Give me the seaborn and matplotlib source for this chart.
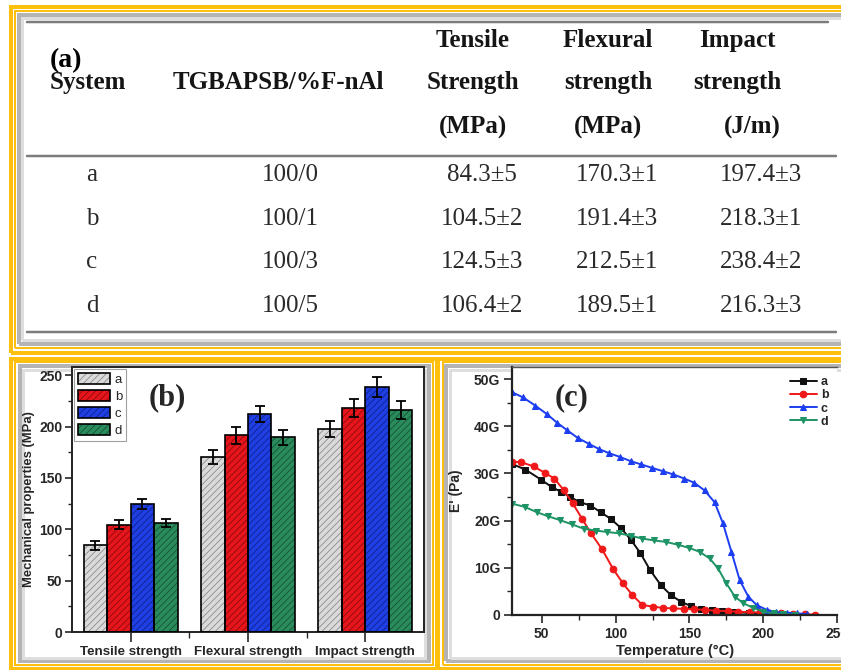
import matplotlib
matplotlib.use("Agg")
import numpy as np
import pandas as pd
import matplotlib.pyplot as plt
import seaborn as sns
from matplotlib.patches import Rectangle, Patch
from matplotlib.lines import Line2D
from matplotlib.ticker import MultipleLocator, FuncFormatter

# ---- (a) table ----
systems = ['a', 'b', 'c', 'd']
ratios = ['100/0', '100/1', '100/3', '100/5']
tensile = [84.3, 104.5, 124.5, 106.4]
tensile_sd = [5, 2, 3, 2]
flexural = [170.3, 191.4, 212.5, 189.5]
flexural_sd = [1, 3, 1, 1]
impact = [197.4, 218.3, 238.4, 216.3]
impact_sd = [3, 1, 2, 3]

# ---- (b) bars ----
properties = ['Tensile strength', 'Flexural strength', 'Impact strength']
bar_err_a = [4, 7, 8]
bar_err_b = [4.5, 8, 9]
bar_err_c = [5, 8, 10]
bar_err_d = [4, 7.5, 8.5]
bar_colors = ['#dadada', '#e5151b', '#1f3fe2', '#2a8c5c']
hatch_colors = ['#8c8c8c', '#8e0b0f', '#0e2390', '#145236']

# ---- (c) storage modulus (GPa) ----
temp_a = [30, 39, 49.5, 56.8, 63.2, 69.3, 76, 83, 89.8, 96.6, 103.4, 110.2, 116.6, 123.4,
          130.7, 137.5, 144.3, 151, 158, 165, 172, 180, 190, 200, 205]
mod_a = [32.0, 30.8, 28.7, 27.1, 26.1, 25.0, 23.9, 23.2, 21.8, 20.4, 18.5, 16.0, 13.2, 9.5,
         6.3, 4.2, 2.8, 1.9, 1.3, 1.0, 0.8, 0.6, 0.45, 0.35, 0.3]
temp_b = [30, 36, 44.5, 52.3, 58.6, 64.8, 70.9, 77.3, 83.4, 90.9, 98.4, 105, 111.4, 118.2,
          125, 131.8, 139, 146.6, 153.4, 160.2, 168, 176, 182.7, 190.7, 197.5, 204, 212,
          220, 228, 235]
mod_b = [32.5, 32.4, 31.5, 30.1, 28.9, 26.5, 23.7, 20.4, 17.3, 13.9, 9.7, 6.7, 4.2, 2.1,
         1.8, 1.5, 1.4, 1.3, 1.2, 1.1, 0.9, 0.85, 0.7, 0.6, 0.55, 0.45, 0.35, 0.25, 0.15, 0.1]
temp_c = [30, 37.5, 45.5, 53.4, 60.2, 67, 74.5, 81.8, 88.6, 95.5, 103, 110.2, 117.5, 124.5,
          131.8, 139, 146.6, 153.4, 160.2, 167, 172.7, 178.4, 184, 189.8, 195.5, 202.3,
          208.6, 216, 222.7, 229.5]
mod_c = [47.2, 46.1, 44.4, 42.6, 40.8, 39.2, 37.5, 36.3, 35.2, 34.3, 33.5, 32.6, 31.9, 31.2,
         30.5, 29.8, 28.9, 28.0, 26.4, 23.9, 19.4, 13.4, 7.4, 3.9, 2.1, 1.1, 0.6, 0.5, 0.35, 0.2]
temp_d = [30, 38.6, 46.6, 54.5, 62.5, 70.5, 78.4, 86.4, 94.3, 102.3, 110.2, 118.2, 126, 134,
          142, 150, 156.8, 163.6, 169.3, 175, 180.7, 186.4, 193.2, 200, 207, 213.6, 221.6]
mod_d = [23.6, 22.9, 21.8, 20.9, 20.1, 19.2, 18.3, 17.9, 17.6, 17.3, 16.8, 16.2, 15.8, 15.5,
         14.9, 14.2, 13.4, 12.0, 9.9, 6.7, 3.9, 2.5, 1.5, 0.7, 0.35, 0.2, 0.1]
line_colors = ['#111111', '#f01818', '#1c3ef0', '#1e9466']
line_markers = ['s', 'o', '^', 'v']

sns.set_style('ticks')
plt.rcParams['font.family'] = ['Liberation Sans', 'DejaVu Sans']
plt.rcParams['font.weight'] = 'bold'
plt.rcParams['axes.labelweight'] = 'bold'
plt.rcParams['hatch.linewidth'] = 0.6

W, H = 841, 670
fig = plt.figure(figsize=(W / 100, H / 100), dpi=100)
fig.patch.set_facecolor('white')

def fx(x):
    return x / W

def fy(y):
    return 1 - y / H

def frame(x0, y0, x1, y1, color, lw_px, z=-2):
    fig.add_artist(Rectangle((fx(x0), fy(y1)), (x1 - x0) / W, (y1 - y0) / H,
                             transform=fig.transFigure, fill=False, ec=color,
                             lw=lw_px * 0.72, clip_on=False, zorder=z))

orange = '#ffbf0f'
# panel frames (double orange + grey shadow)
for (x0, y0, x1, y1) in [(10.5, 6.5, 870, 352.5), (10.5, 358.5, 436.5, 668.5), (438.5, 358.5, 870, 668.5)]:
    frame(x0, y0, x1, y1, orange, 4, z=-1)
for (x0, y0, x1, y1) in [(14.5, 10.5, 870, 348), (15.5, 362, 432.5, 665), (442.5, 362, 870, 665)]:
    frame(x0, y0, x1, y1, orange, 2, z=-1)
    frame(x0 + 4, y0 + 4, x1 - 4, y1 - 4, '#b4b4b4', 4)
    frame(x0 + 7.5, y0 + 7.5, x1 - 7.5, y1 - 7.5, '#dedede', 3)

# ---- (a) table as text ----
serif = ['Liberation Serif', 'DejaVu Serif']
line_kw = dict(transform=fig.transFigure, color='#7c7c7c', lw=2.5 * 0.72)
fig.add_artist(Line2D([fx(27), fx(828)], [fy(22), fy(22)], **line_kw))
fig.add_artist(Line2D([fx(27), fx(836)], [fy(155.5), fy(155.5)], **line_kw))
fig.add_artist(Line2D([fx(27), fx(836)], [fy(332.5), fy(332.5)], **line_kw))

hdr = dict(ha='center', va='baseline', fontsize=18, family=serif, weight='bold', color='#151515')
fig.text(fx(50), fy(67), '(a)', ha='left', va='baseline', fontsize=20, family=serif,
         weight='bold', color='black')
fig.text(fx(88), fy(89), 'System', **hdr)
fig.text(fx(278), fy(89), 'TGBAPSB/%F-nAl', **hdr)
for xc, words in [(473, ['Tensile', 'Strength', '(MPa)']),
                  (608, ['Flexural', 'strength', '(MPa)']),
                  (737, ['Impact', 'strength', '(J/m)'])]:
    for yb, w in zip([47, 89, 134], words):
        xx = 752 if w == '(J/m)' else xc
        fig.text(fx(xx), fy(yb), w, **hdr)

cell = dict(ha='center', va='baseline', fontsize=18, family=serif, weight='normal', color='#2a2a2a')
for i, yb in enumerate([181, 224.5, 268, 312]):
    fig.text(fx(92), fy(yb), systems[i], **cell)
    fig.text(fx(290), fy(yb), ratios[i], **cell)
    fig.text(fx(482), fy(yb), f'{tensile[i]}±{tensile_sd[i]}', **cell)
    fig.text(fx(617), fy(yb), f'{flexural[i]}±{flexural_sd[i]}', **cell)
    fig.text(fx(761), fy(yb), f'{impact[i]}±{impact_sd[i]}', **cell)

# ---- (b) bar chart ----
axb = fig.add_axes([fx(72), fy(632), (424 - 72) / W, (632 - 367) / H])
bar_df = pd.DataFrame({
    'property': np.repeat(properties, 4),
    'system': systems * 3,
    'value': tensile + flexural + impact,
})
sns.barplot(data=bar_df, x='property', y='value', hue='system', palette=bar_colors,
            saturation=1, width=0.8, errorbar=None, legend=False, ax=axb)
errs = [bar_err_a, bar_err_b, bar_err_c, bar_err_d]
handles = []
bar_containers = list(axb.containers)
for i, cont in enumerate(bar_containers):
    xs, hs = [], []
    for bar in cont:
        bar.set_hatch('/////')
        bar.set_edgecolor(hatch_colors[i])
        bar.set_linewidth(0)
        axb.add_patch(Rectangle(bar.get_xy(), bar.get_width(), bar.get_height(),
                                fill=False, ec='black', lw=1.2, zorder=3))
        xs.append(bar.get_x() + bar.get_width() / 2)
        hs.append(bar.get_height())
    axb.errorbar(xs, hs, yerr=errs[i], fmt='none', ecolor='black', elinewidth=1.3,
                 capsize=3.5, capthick=1.3, zorder=4)
    handles.append((Patch(fc=bar_colors[i], ec=hatch_colors[i], hatch='/////', lw=0),
                    Patch(fill=False, ec='black', lw=1.2)))
leg = axb.legend(handles, systems, loc='upper left', bbox_to_anchor=(0, 1), borderaxespad=0.15,
                 frameon=True, fancybox=False, edgecolor='#888888', handlelength=2.4,
                 handleheight=0.9, labelspacing=0.3, handletextpad=0.4, borderpad=0.3,
                 prop=dict(family=['Liberation Sans'], size=9.5, weight='normal'))
leg.get_frame().set_linewidth(0.8)
axb.set_ylim(0, 258)
axb.set_xlim(-0.5, 2.5)
axb.yaxis.set_major_locator(MultipleLocator(50))
axb.yaxis.set_minor_locator(MultipleLocator(25))
axb.set_xticks([0, 1, 2])
axb.set_xticks([0.5, 1.5], minor=True)
axb.tick_params(axis='y', which='major', length=5, width=1.2, labelsize=10, pad=2)
axb.tick_params(axis='y', which='minor', length=3, width=1.0)
axb.tick_params(axis='x', which='major', length=7, width=1.2, labelsize=9.6, pad=3)
axb.tick_params(axis='x', which='minor', length=4, width=1.0)
axb.set_xlabel('')
axb.set_ylabel('Mechanical properties (MPa)', fontsize=9.4, labelpad=3, weight='bold')
for s in axb.spines.values():
    s.set_linewidth(1.4)
    s.set_color('#222222')
fig.text(fx(167), fy(398), '(b)', ha='center', va='center', fontsize=22, family=serif,
         weight='bold')

# ---- (c) DMA curves ----
axc = fig.add_axes([fx(512.2), fy(615), (837.2 - 512.2) / W, (615 - 367.3) / H])
for t, m, c, mk, lab in zip([temp_a, temp_b, temp_c, temp_d], [mod_a, mod_b, mod_c, mod_d],
                            line_colors, line_markers, systems):
    sns.lineplot(x=t, y=m, color=c, marker=mk, markersize=4.8, markeredgecolor=c,
                 linewidth=1.4, label=lab, ax=axc, estimator=None, sort=False)
axc.set_xlim(30, 250)
axc.set_ylim(0, 52.5)
axc.xaxis.set_major_locator(MultipleLocator(50))
axc.xaxis.set_minor_locator(MultipleLocator(25))
axc.yaxis.set_major_locator(MultipleLocator(10))
axc.yaxis.set_minor_locator(MultipleLocator(5))
axc.yaxis.set_major_formatter(FuncFormatter(lambda v, p: '0' if v == 0 else f'{v:g}G'))
axc.tick_params(axis='both', which='major', length=6, width=1.2, labelsize=10, pad=2.5)
axc.tick_params(axis='both', which='minor', length=3.5, width=1.0)
axc.set_xlabel('Temperature (°C)', fontsize=10.5, labelpad=2, weight='bold')
axc.set_ylabel("E' (Pa)", fontsize=10, labelpad=8, weight='bold')
for s in ['left', 'bottom']:
    axc.spines[s].set_linewidth(1.6)
    axc.spines[s].set_color('#222222')
axc.spines['top'].set_linewidth(1.0)
axc.spines['top'].set_color('#555555')
axc.spines['right'].set_visible(False)
axc.legend(loc='upper right', bbox_to_anchor=(1.0, 1.0), frameon=False, handlelength=2.2,
           handletextpad=0.3, labelspacing=0.1, borderaxespad=0.3,
           prop=dict(size=9, weight='bold'))
fig.text(fx(572), fy(398), '(c)', ha='center', va='center', fontsize=22, family=serif,
         weight='bold')

fig.savefig('out.png', dpi=100)
